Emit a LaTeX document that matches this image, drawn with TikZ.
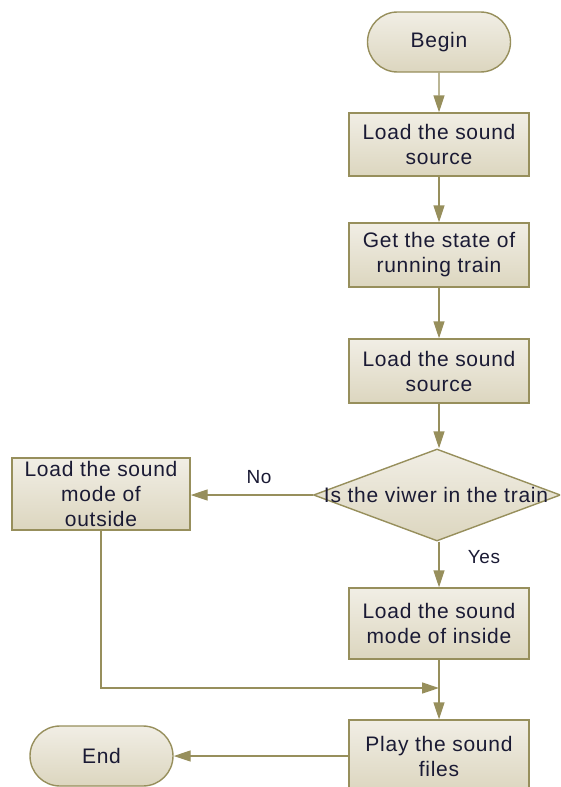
\documentclass[tikz,border=0pt]{standalone}
\usepackage{fontspec}
\setmainfont{Liberation Sans}[LetterSpace=3.5]
\usetikzlibrary{shapes.geometric,shapes.misc,arrows.meta}
\definecolor{edge}{HTML}{978F5C}
\definecolor{topc}{HTML}{F1EEE5}
\definecolor{botc}{HTML}{DCD6BF}
\definecolor{txt}{HTML}{1A1A34}
\tikzset{
  base/.style={draw=edge, line width=1.4pt, top color=topc, bottom color=botc,
    text=txt, font=\fontsize{21}{25}\selectfont, align=center, inner sep=0pt},
  procbox/.style={base, rectangle, minimum width=180pt},
  term/.style={base, rounded rectangle, minimum width=143pt, minimum height=60pt},
  decide/.style={base, diamond, minimum width=247pt, minimum height=92pt},
  conn/.style={draw=edge, line width=1.4pt, -{Triangle[length=17pt,width=11pt]}},
  lbl/.style={text=txt, font=\fontsize{19}{23}\selectfont}
}
\begin{document}
\begin{tikzpicture}[x=1pt,y=-1pt]
\useasboundingbox (0,0) rectangle (560,787);
\clip (0,0) rectangle (560,787);
\node[term] (begin) at (439,42) {Begin};
\node[procbox, minimum height=63pt] (b1) at (439,144.5) {Load the sound\\source};
\node[procbox, minimum height=64pt] (b2) at (439,255) {Get the state of\\running train};
\node[procbox, minimum height=64pt] (b3) at (439,371) {Load the sound\\source};
\node[decide] (dec) at (437,495) {};
\node[text=txt, font=\fontsize{21}{25}\selectfont] (dectext) at (436,495) {Is the viwer in the train};
\node[procbox, minimum width=178pt, minimum height=72pt] (out) at (101,494) {Load the sound\\mode of\\outside};
\node[procbox, minimum height=71pt] (b4) at (439,623.5) {Load the sound\\mode of inside};
\node[procbox, minimum height=72pt] (b5) at (439,756) {Play the sound\\files};
\node[term] (end) at (101.5,756) {End};
\coordinate (merge) at (439,688);
\draw[conn] (begin) -- (b1);
\draw[conn] (b1) -- (b2);
\draw[conn] (b2) -- (b3);
\draw[conn] (b3.south) -- (b3.south |- dec.north);
\draw[conn] (dec.west) -- (out.east |- dec.west);
\draw[conn] (dec.south -| b4.north) -- (b4.north);
\draw[conn] (b4.south) -- (b5.north);
\draw[conn] (out.south) |- (merge);
\draw[conn] (b5.west) -- (end.east);
\node[lbl] (no) at (259,477) {No};
\node[lbl] (yes) at (484,557) {Yes};
\end{tikzpicture}
\end{document}
